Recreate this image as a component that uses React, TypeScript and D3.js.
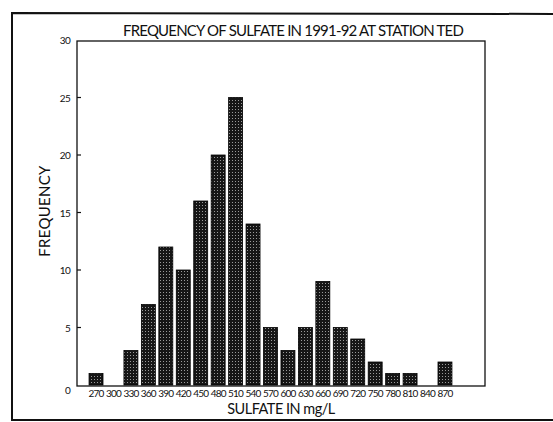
import * as d3 from 'd3';

// sulfate bins (mg/L) and how many samples fell in each
const bins = ['270', '300', '330', '360', '390', '420', '450', '480', '510', '540', '570',
  '600', '630', '660', '690', '720', '750', '780', '810', '840', '870'];
const counts = [1, 0, 3, 7, 12, 10, 16, 20, 25, 14, 5, 3, 5, 9, 5, 4, 2, 1, 1, 0, 2];
const yTicks = [0, 5, 10, 15, 20, 25, 30];

const title = 'FREQUENCY OF SULFATE IN 1991-92 AT STATION TED';
const xTitle = 'SULFATE IN mg/L';
const yTitle = 'FREQUENCY';

const W = 553;
const H = 422;
const font = 'Lato, "Open Sans", sans-serif';

const App: any = () => {
  // plot box
  const box = { left: 77, right: 485, top: 41, bottom: 386 };

  const x = d3.scaleBand()
    .domain(bins)
    .range([87.3, 453.7])
    .paddingInner(0.2)
    .paddingOuter(0.1);

  const y = d3.scaleLinear()
    .domain([0, 30])
    .range([box.bottom - 1, box.top - 1]);

  return (
    <svg width={W} height={H} style={{ position: 'absolute', left: 0, top: 0, background: '#fff' }}>
      <defs>
        <pattern id="dots" width={3} height={3} patternUnits="userSpaceOnUse">
          <rect width={3} height={3} fill="#161616" />
          <rect x={1} y={1} width={1} height={1} fill="#9a9a9a" />
        </pattern>
      </defs>

      {/* outer frame of the scanned figure */}
      <path d={`M580,14 L12,13 L12,420 L580,420`} fill="none" stroke="#111" strokeWidth={2} />

      <text x={293} y={36} textAnchor="middle" fontFamily={font} fontSize={15}
        fill="#111" letterSpacing={-0.8}>{title}</text>

      {/* plot box */}
      <rect x={box.left} y={box.top} width={box.right - box.left} height={box.bottom - box.top}
        fill="none" stroke="#111" strokeWidth={1.3} />

      {/* bars */}
      {counts.map((c, i) => c > 0 && (
        <rect key={bins[i]}
          x={x(bins[i])}
          y={y(c)}
          width={x.bandwidth()}
          height={y(0) - y(c)}
          fill="url(#dots)"
          stroke="#000"
          strokeWidth={0.8} />
      ))}

      {/* y axis ticks + labels */}
      {yTicks.map(t => (
        <g key={t}>
          {t > 0 && t < 30 && (
            <line x1={box.left} x2={box.left + 4} y1={y(t)} y2={y(t)} stroke="#111" strokeWidth={1.2} />
          )}
          <text x={70} y={y(t) + (t === 0 ? 9 : 4)} textAnchor="end" fontFamily={font}
            fontSize={10} fill="#111" letterSpacing={-0.7}>{t}</text>
        </g>
      ))}

      {/* x tick labels */}
      {bins.map(b => (
        <text key={b} x={(x(b) as number) + x.bandwidth() / 2} y={397} textAnchor="middle"
          fontFamily={font} fontSize={10} fill="#111" letterSpacing={-0.8}>{b}</text>
      ))}

      <text x={281} y={414} textAnchor="middle" fontFamily={font} fontSize={14.5}
        fill="#111" letterSpacing={-0.5}>{xTitle}</text>

      <text transform={`translate(50,211) rotate(-90)`} textAnchor="middle" fontFamily={font}
        fontSize={15} fill="#111" letterSpacing={0.3}>{yTitle}</text>
    </svg>
  );
};

export default App;
